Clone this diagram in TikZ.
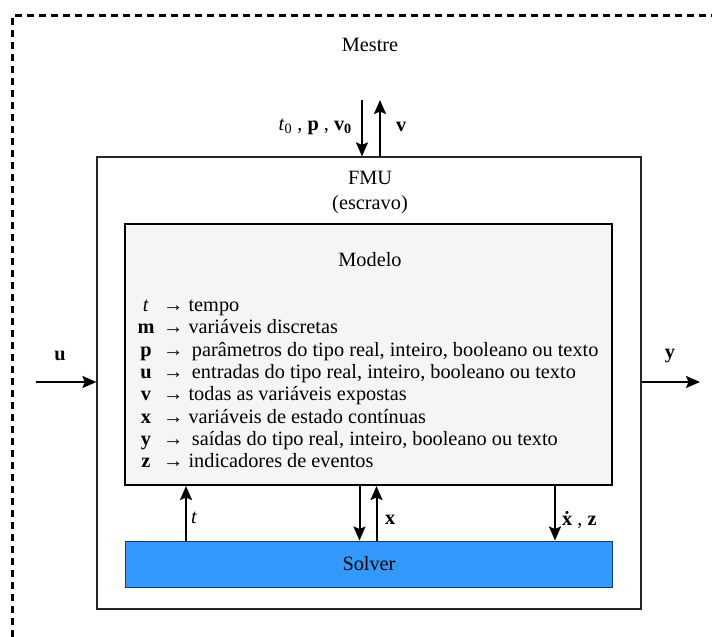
\documentclass[tikz,border=0pt]{standalone}
\usepackage{fontspec}
\setmainfont{Liberation Serif}
\usepackage{tikz}
\usetikzlibrary{positioning,arrows.meta}

\definecolor{modelfill}{HTML}{F5F5F5}
\definecolor{solverfill}{HTML}{3399FF}
\definecolor{solverline}{HTML}{1F3A5A}

\tikzset{
    sig/.style={line width=2pt, -{Stealth[length=14pt, width=12pt, inset=2.5pt]}},
    lbl/.style={font=\fontsize{20.3}{24}\selectfont, inner sep=0pt},
}

\begin{document}
\begin{tikzpicture}[x=1pt, y=-1pt]
    \useasboundingbox (0,0) rectangle (712,637);

    % =====================================================
    % MASTER (dashed frame)
    % =====================================================
    \draw[line width=2.2pt, dash pattern=on 7pt off 5pt] (12.5,637) -- (12.5,15.5) -- (712,15.5);
    \node[lbl] (mestre) at (370,45) {Mestre};

    % =====================================================
    % FMU, MODEL AND SOLVER BLOCKS
    % =====================================================
    \node[draw=black!85, line width=1.2pt, minimum width=544pt, minimum height=452pt, inner sep=0pt] (fmu) at (369,383) {};
    \node[lbl, align=center] (fmuname) at (370,193) {FMU\\[1pt](escravo)};

    \node[draw=black, line width=2pt, fill=modelfill, minimum width=487pt, minimum height=261pt, inner sep=0pt] (modelo) at (368.5,354.5) {};
    \node[lbl] (modeloname) at (370,260) {Modelo};

    \node[draw=solverline, line width=1pt, fill=solverfill, minimum width=487pt, minimum height=46pt, inner sep=0pt] (solver) at (368.5,564) {};
    \node[lbl] (solvername) at (369,564) {Solver};

    % Variable list
    \foreach \s/\d [count=\i] in {
        {\textit{t}}/{tempo},
        {\textbf{m}}/{variáveis discretas},
        {\textbf{p}}/{\,parâmetros do tipo real, inteiro, booleano ou texto},
        {\textbf{u}}/{\,entradas do tipo real, inteiro, booleano ou texto},
        {\textbf{v}}/{todas as variáveis expostas},
        {\textbf{x}}/{variáveis de estado contínuas},
        {\textbf{y}}/{\,saídas do tipo real, inteiro, booleano ou texto},
        {\textbf{z}}/{indicadores de eventos}} {
        \node[lbl, anchor=base] (sym\i) at (146, 311.5+22.35*\i-22.35) {\s};
        \node[lbl, anchor=base west] (desc\i) at (163, 311.5+22.35*\i-22.35) {→ \d};
    }

    % =====================================================
    % SIGNALS
    % =====================================================
    % Master <-> FMU
    \coordinate (topIn) at (362,100);
    \coordinate (topOut) at (380,100);
    \draw[sig] (topIn) -- (topIn |- fmu.north);
    \draw[sig] (topOut |- fmu.north) -- (topOut);
    \node[lbl, anchor=east] (inlbl) at (352,127) {\textit{t}\textsubscript{0} , \textbf{p} , \textbf{v\textsubscript{0}}};
    \node[lbl, anchor=west] (outlbl) at (396,127) {\textbf{v}};

    % Inputs and outputs
    \coordinate (uIn) at (36,382);
    \coordinate (yOut) at (700,382);
    \draw[sig] (uIn) -- (uIn -| fmu.west);
    \draw[sig] (yOut -| fmu.east) -- (yOut);
    \node[lbl] (ulbl) at (60,356) {\textbf{u}};
    \node[lbl] (ylbl) at (670,356) {\textbf{y}};

    % Model <-> Solver
    \coordinate (tcol) at (186,520);
    \coordinate (xdown) at (359.5,520);
    \coordinate (xup) at (376.5,520);
    \coordinate (dcol) at (555,520);
    \draw[sig] (tcol |- solver.north) -- (tcol |- modelo.south);
    \draw[sig] (xdown |- modelo.south) -- (xdown |- solver.north);
    \draw[sig] (xup |- solver.north) -- (xup |- modelo.south);
    \draw[sig] (dcol |- modelo.south) -- (dcol |- solver.north);
    \node[lbl, anchor=west] (tlbl) at (191,518) {\textit{t}};
    \node[lbl, anchor=west] (xlbl) at (385,520) {\textbf{x}};
    \node[lbl, anchor=west] (dlbl) at (562,520) {\textbf{\.x} , \textbf{z}};

\end{tikzpicture}
\end{document}
